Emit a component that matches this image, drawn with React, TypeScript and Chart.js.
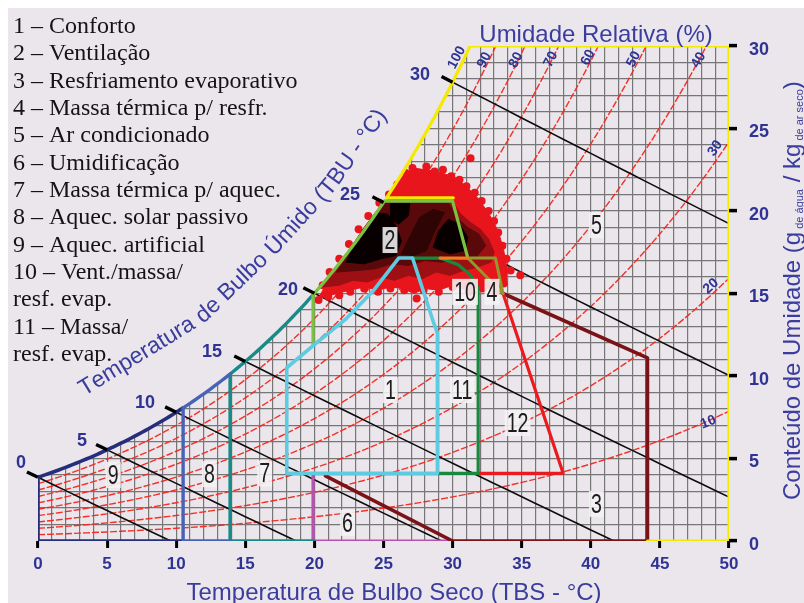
import React, { useEffect, useRef } from "react";
import { Chart, registerables } from "chart.js";

Chart.register(...registerables);

// ---------- constants ----------
const CANVAS_W = 796;
const CANVAS_H = 595;
const PRESSURE_KPA = 99;
const BG = "#ebe6ec";
const BLUE = "#2f3393";
const TITLE_BLUE = "#3a3d9e";
const GRID = "#767676";
const SANS = '"Liberation Sans", Arial, sans-serif';
const SERIF = '"Liberation Serif", "Times New Roman", serif';

// ---------- data ----------
const LEGEND_LINES = [
  "1 – Conforto",
  "2 – Ventilação",
  "3 – Resfriamento evaporativo",
  "4 – Massa térmica p/ resfr.",
  "5 – Ar condicionado",
  "6 – Umidificação",
  "7 – Massa térmica p/ aquec.",
  "8 – Aquec. solar passivo",
  "9 – Aquec. artificial",
  "10 – Vent./massa/",
  "resf. evap.",
  "11 – Massa/",
  "resf. evap.",
];

const RH_LEVELS = [10, 20, 30, 40, 50, 60, 70, 80, 90];
const RH_LABELS = ["100", "90", "80", "70", "60", "50", "40", "30", "20", "10"];
const RH_LABEL_X = [30.3, 32.3, 34.6, 37.1, 39.8, 43.1, 47.8, 49.0, 48.7, 48.5];
const RH_LABEL_Y = [29.3, 29.15, 29.15, 29.2, 29.3, 29.2, 29.15, 23.8, 15.45, 7.2];
const RH_LABEL_ANGLE = [-62, -63, -63, -63, -63, -62, -60, -55, -42, -22];

const WET_BULB_TEMPS = [0, 5, 10, 15, 20, 25, 30];
const WB_LABEL_X = [-1.23, 3.18, 7.74, 12.59, 18.09, 22.58, 27.64];
const WB_LABEL_Y = [4.73, 6.06, 8.36, 11.45, 15.21, 20.97, 28.24];

const TBU_TITLE = "Temperatura de Bulbo Úmido (TBU - °C)";
const TBU_PATH_X = [3.1, 11.8, 17.15, 21.13, 25.9];
const TBU_PATH_Y = [9.1, 13.55, 17.85, 21.5, 27.2];

const ZONE_LABELS = ["1", "2", "3", "4", "5", "6", "7", "8", "9", "10", "11", "12"];
const ZONE_LABEL_X = [25.5, 25.47, 40.4, 32.85, 40.4, 22.4, 16.4, 12.4, 5.45, 30.9, 30.7, 34.7];
const ZONE_LABEL_Y = [9.15, 18.24, 2.25, 15.1, 19.15, 1.1, 4.1, 4.05, 4.0, 15.1, 9.15, 7.15];

// zone limits on the dry-bulb axis
const ZONE9_X = [0, 10.5];
const ZONE8_X = [10.5, 13.9];
const ZONE7_X = [13.9, 19.9];
const ZONE2_SAT_X = [19.9, 25.07];
const ZONE5_SAT_X = [25.22, 31.27];

type P = [number, number];
const ZONE1_CONFORTO: P[] = [[18, 4.1], [18, 10.5], [20, 11.9], [22.2, 13.4], [24.2, 15.1], [26.1, 17.15], [27.1, 17.15], [28.6, 13.3], [28.9, 12.6], [28.9, 4.1], [18, 4.1]];
const ZONE2_VENT_TAIL: P[] = [[25.07, 20.6], [30.0, 20.6], [31.1, 17.15]];
const ZONE2_VENT_BASE: P[] = [[19.9, 11.9]];
const ZONE5_TOP_EDGE: P[] = [[25.22, 20.8], [30.05, 20.8]];
const ZONE5_FRAME: P[] = [[50, 30], [50, 0], [44.1, 0]];
const ZONE6_UMID: P[] = [[19.9, 4.1], [19.9, 0], [30, 0]];
const ZONE3_EVAP: P[] = [[20.8, 3.95], [30, 0], [44.1, 0], [44.1, 11.1], [33.65, 15.0]];
const ZONE10_11: P[] = [[27.1, 17.15], [29.1, 17.15], [30.4, 16.75], [31.3, 16.1], [31.85, 15.3], [31.85, 4.1], [28.9, 4.1]];
const ZONE_ORANGE: P[] = [[29.1, 17.15], [31.1, 17.15]];
const ZONE4_MASSA: P[] = [[31.1, 17.15], [33.1, 17.15], [33.65, 15.0], [31.1, 17.15]];
const ZONE12: P[] = [[31.85, 4.1], [38.0, 4.1], [33.65, 15.0]];

// climate data cloud (outline of the plotted hourly points)
const CLOUD_OUTER: P[] = [[20.3, 14.7], [20.8, 15.5], [21.6, 16.3], [22.4, 17.2], [23.2, 18.2], [24.0, 19.1], [24.8, 20.0], [25.4, 20.9], [25.9, 21.6], [26.5, 22.2], [27.2, 22.6], [28.0, 22.5], [28.8, 22.4], [29.6, 22.2], [30.4, 21.9], [31.1, 21.4], [31.8, 20.8], [32.5, 20.0], [33.0, 19.3], [33.4, 18.5], [33.7, 17.6], [33.9, 16.7], [33.9, 15.8], [33.5, 15.2], [32.8, 15.3], [31.9, 15.4], [31.0, 15.2], [30.0, 15.5], [29.0, 15.2], [28.0, 15.3], [27.2, 15.0], [26.4, 15.3], [25.5, 15.4], [24.6, 15.2], [23.6, 15.4], [22.6, 15.2], [21.6, 15.0], [20.8, 14.8], [20.3, 14.7]];
const CLOUD_DARK: P[] = [[20.6, 15.4], [21.2, 16.2], [22.0, 17.0], [22.8, 18.0], [23.6, 19.0], [24.4, 19.9], [25.0, 20.55], [30.0, 20.55], [30.6, 19.8], [31.3, 19.3], [32.0, 18.9], [32.6, 18.3], [33.0, 17.5], [32.8, 16.9], [31.8, 16.6], [30.8, 16.4], [29.8, 16.1], [28.8, 16.3], [27.8, 15.9], [26.8, 16.1], [25.8, 15.8], [24.8, 16.0], [23.8, 15.7], [22.8, 15.8], [21.8, 15.5], [20.6, 15.4]];
const CLOUD_MID: P[] = [[21.6, 16.3], [22.5, 17.4], [23.5, 18.7], [24.5, 19.9], [25.1, 20.5], [29.7, 20.5], [30.3, 19.6], [31.1, 19.0], [31.9, 18.6], [32.4, 17.9], [31.7, 17.2], [30.4, 17.1], [29.2, 16.9], [28.0, 17.0], [26.8, 16.7], [25.6, 16.8], [24.4, 16.5], [23.2, 16.4], [21.6, 16.3]];
const CLOUD_DARKER: P[] = [[26.3, 17.4], [27.0, 18.6], [27.6, 19.6], [28.6, 20.1], [29.4, 19.9], [28.6, 18.6], [28.1, 17.6], [27.2, 17.3], [26.3, 17.4]];
const CLOUD_BLACK_A: P[] = [[22.3, 16.9], [22.9, 18.0], [23.7, 19.0], [24.5, 19.9], [25.3, 19.8], [25.9, 19.1], [26.3, 18.2], [25.9, 17.3], [24.8, 17.1], [23.6, 16.8], [22.3, 16.9]];
const CLOUD_BLACK_B: P[] = [[28.6, 17.8], [29.0, 18.8], [29.7, 19.5], [30.5, 19.2], [31.1, 18.4], [30.9, 17.6], [29.8, 17.4], [28.6, 17.8]];
const CLOUD_BLACK_C: P[] = [[25.5, 20.45], [26.9, 20.45], [26.8, 19.7], [26.1, 19.2], [25.5, 19.5], [25.5, 20.45]];
const CLOUD_DOTS: P[] = [[26.0, 21.6], [26.6, 22.3], [27.1, 22.6], [27.6, 22.3], [28.1, 22.7], [28.7, 22.4], [29.3, 22.5], [29.9, 22.1], [30.5, 21.9], [31.0, 21.5], [31.3, 23.2], [31.6, 21.1], [32.1, 20.6], [32.6, 20.0], [33.0, 19.4], [33.3, 18.7], [33.6, 17.9], [33.9, 17.1], [34.2, 16.4], [34.9, 16.1], [33.7, 15.6], [33.1, 15.1], [32.2, 15.3], [31.2, 15.1], [30.0, 15.4], [29.0, 15.1], [27.9, 15.2], [27.4, 14.7], [26.5, 15.2], [25.5, 15.3], [24.6, 15.1], [23.6, 15.3], [22.6, 15.1], [21.8, 14.9], [21.0, 14.8], [20.3, 14.6], [20.6, 15.5], [21.1, 16.3], [21.8, 17.1], [22.5, 18.0], [23.2, 18.9], [23.9, 19.7], [24.7, 20.5], [25.4, 21.0]];

// ---------- psychrometric helpers ----------
const satVP = (t: number) => 0.61094 * Math.exp((17.625 * t) / (t + 243.04));
const humidity = (t: number, rh: number) => {
  const e = rh * satVP(t);
  return (622 * e) / (PRESSURE_KPA - e);
};
const satCurve = (t0: number, t1: number): P[] => {
  const pts: P[] = [];
  for (let t = t0; t < t1; t += 0.25) pts.push([t, humidity(t, 1)]);
  pts.push([t1, humidity(t1, 1)]);
  return pts;
};
const wetBulbW = (t: number, twb: number) => {
  const ws = humidity(twb, 1) / 1000;
  return (1000 * ((2501 - 2.326 * twb) * ws - 1.006 * (t - twb))) / (2501 + 1.86 * t - 4.186 * twb);
};

const xy = (pts: P[]) => pts.map(([x, y]) => ({ x, y }));
const lineDs = (pts: P[], color: string, width: number, order: number, extra: any = {}) => ({
  data: xy(pts),
  borderColor: color,
  backgroundColor: color,
  borderWidth: width,
  pointRadius: 0,
  fill: false,
  order,
  tension: 0,
  borderJoinStyle: "round",
  borderCapStyle: "round",
  ...extra,
});
const polyDs = (pts: P[], color: string, order: number) =>
  lineDs(pts, color, 1, order, { fill: "shape", backgroundColor: color, borderColor: color });

function buildDatasets() {
  const ds: any[] = [];
  // lavender cover above saturation curve (hides grid)
  const above = satCurve(0, ZONE5_SAT_X[1]);
  ds.push(lineDs(above, "transparent", 0, 100, { fill: "end", backgroundColor: BG, borderColor: "rgba(0,0,0,0)" }));

  // relative humidity curves
  RH_LEVELS.forEach((rh) => {
    const pts: P[] = [];
    for (let t = 0; t <= 50.001; t += 0.5) {
      const w = humidity(t, rh / 100);
      pts.push([t, w]);
      if (w > 31) break;
    }
    ds.push(lineDs(pts, "rgba(244,38,28,0.95)", 1.4, 90, { borderDash: [7, 2], borderCapStyle: "butt" }));
  });

  // wet-bulb lines and their ticks
  WET_BULB_TEMPS.forEach((twb) => {
    const ws = humidity(twb, 1) / 1000;
    const tEnd = Math.min(50, twb + ((2501 - 2.326 * twb) * ws) / 1.006);
    const pts: P[] = [];
    for (let t = twb; t < tEnd; t += 1) pts.push([t, wetBulbW(t, twb)]);
    pts.push([tEnd, Math.max(0, wetBulbW(tEnd, twb))]);
    ds.push(lineDs(pts, "#0d0d0d", 1.6, 85));
    ds.push(lineDs([[twb - 0.8, wetBulbW(twb - 0.8, twb)], [twb, wetBulbW(twb, twb)]], "#000000", 3.4, 5, { clip: false, borderCapStyle: "butt" }));
  });

  // climate cloud
  ds.push(polyDs(CLOUD_OUTER, "#e8151c", 60));
  ds.push(lineDs(CLOUD_DOTS, "#e8151c", 0, 59, { showLine: false, pointRadius: 4, pointBackgroundColor: "#e8151c", pointBorderWidth: 0 }));
  ds.push(polyDs(CLOUD_DARK, "#9c1014", 58));
  ds.push(polyDs(CLOUD_MID, "#5a090b", 57));
  ds.push(polyDs(CLOUD_DARKER, "#2e0405", 56));
  ds.push(polyDs(CLOUD_BLACK_A, "#080000", 55));
  ds.push(polyDs(CLOUD_BLACK_B, "#080000", 55));
  ds.push(polyDs(CLOUD_BLACK_C, "#080000", 55));

  // zone boundaries
  ds.push(lineDs([[ZONE9_X[1], 0], [0, 0], ...satCurve(ZONE9_X[0], ZONE9_X[1])], "#262e7c", 3.6, 20));
  ds.push(lineDs([[ZONE8_X[1], 0], [ZONE8_X[0], 0], ...satCurve(ZONE8_X[0], ZONE8_X[1])], "#4862b6", 3.4, 19));
  ds.push(lineDs([[20, 0], [ZONE7_X[0], 0], ...satCurve(ZONE7_X[0], ZONE7_X[1])], "#188b88", 3.4, 19));
  ds.push(lineDs(ZONE6_UMID, "#b752b2", 3.2, 19));
  ds.push(lineDs(ZONE3_EVAP, "#7a1317", 3.6, 18));
  ds.push(lineDs([...satCurve(ZONE5_SAT_X[0], ZONE5_SAT_X[1]), ...ZONE5_FRAME], "#f3ea00", 3.2, 17));
  ds.push(lineDs(ZONE5_TOP_EDGE, "#f3ea00", 3.2, 17));
  ds.push(lineDs([...ZONE2_VENT_BASE, ...satCurve(ZONE2_SAT_X[0], ZONE2_SAT_X[1]), ...ZONE2_VENT_TAIL], "#7cc242", 3.2, 16));
  ds.push(lineDs(ZONE12, "#ea1b1f", 3.2, 15));
  ds.push(lineDs(ZONE10_11, "#16893c", 3.2, 14));
  ds.push(lineDs(ZONE_ORANGE, "#f27a21", 3.2, 13));
  ds.push(lineDs(ZONE4_MASSA, "#8f992d", 3.0, 13));
  ds.push(lineDs(ZONE1_CONFORTO, "#5fcbe0", 3.6, 12));
  return ds;
}

function drawOnPath(ctx: CanvasRenderingContext2D, text: string, pts: P[]) {
  const segs: number[] = [];
  for (let i = 1; i < pts.length; i++) {
    segs.push(Math.hypot(pts[i][0] - pts[i - 1][0], pts[i][1] - pts[i - 1][1]));
  }
  const at = (s0: number): P => {
    let s = s0;
    if (s < 0) {
      const [a, b] = [pts[0], pts[1]];
      const f = s / segs[0];
      return [a[0] + (b[0] - a[0]) * f, a[1] + (b[1] - a[1]) * f];
    }
    for (let i = 0; i < segs.length; i++) {
      if (s <= segs[i] || i === segs.length - 1) {
        const f = s / segs[i];
        return [pts[i][0] + (pts[i + 1][0] - pts[i][0]) * f, pts[i][1] + (pts[i + 1][1] - pts[i][1]) * f];
      }
      s -= segs[i];
    }
    return pts[pts.length - 1];
  };
  let s = 0;
  for (const ch of text) {
    const w = ctx.measureText(ch).width;
    const m = s + w / 2;
    const [x, y] = at(m);
    const a = at(m - 14);
    const b = at(m + 14);
    const ang = Math.atan2(b[1] - a[1], b[0] - a[0]);
    ctx.save();
    ctx.translate(x, y);
    ctx.rotate(ang);
    ctx.fillText(ch, 0, 0);
    ctx.restore();
    s += w;
  }
}

const bgPlugin = {
  id: "bg",
  beforeDraw(chart: any) {
    const ctx = chart.ctx;
    ctx.save();
    ctx.fillStyle = BG;
    ctx.fillRect(0, 0, chart.width, chart.height);
    ctx.restore();
  },
};

const textPlugin = {
  id: "texts",
  afterDraw(chart: any) {
    const ctx: CanvasRenderingContext2D = chart.ctx;
    const xs = chart.scales.x;
    const ys = chart.scales.y;
    const px = (v: number) => xs.getPixelForValue(v);
    const py = (v: number) => ys.getPixelForValue(v);
    ctx.save();

    // zone labels
    ctx.font = `28px ${SANS}`;
    ZONE_LABELS.forEach((l, i) => {
      const cx = px(ZONE_LABEL_X[i]);
      const cy = py(ZONE_LABEL_Y[i]);
      const w = ctx.measureText(l).width * 0.7;
      ctx.fillStyle = "rgba(244,242,244,0.88)";
      ctx.fillRect(cx - w / 2 - 2, cy - 13, w + 4, 26);
      ctx.save();
      ctx.translate(cx, cy);
      ctx.scale(0.7, 1);
      ctx.fillStyle = "#1c1c1c";
      ctx.textAlign = "center";
      ctx.textBaseline = "middle";
      ctx.fillText(l, 0, 1);
      ctx.restore();
    });

    // legend text
    ctx.fillStyle = "#141414";
    ctx.font = `24px ${SERIF}`;
    ctx.textAlign = "left";
    ctx.textBaseline = "alphabetic";
    LEGEND_LINES.forEach((t, i) => ctx.fillText(t, 5, 25 + i * 27.33));

    // axis titles
    ctx.fillStyle = TITLE_BLUE;
    ctx.font = `24px ${SANS}`;
    ctx.textAlign = "center";
    ctx.fillText("Umidade Relativa (%)", 588, 34);
    ctx.fillText("Temperatura de Bulbo Seco (TBS - °C)", 386, 592);

    // right vertical title with subscripts
    ctx.save();
    ctx.translate(792, 492);
    ctx.rotate(-Math.PI / 2);
    ctx.textAlign = "left";
    let cx = 0;
    const seg = (t: string, size: number, dy: number) => {
      ctx.font = `${size}px ${SANS}`;
      ctx.fillText(t, cx, dy);
      cx += ctx.measureText(t).width;
    };
    seg("Conteúdo de Umidade (g", 24, 0);
    seg(" de água", 11, 3);
    seg(" / kg", 24, 0);
    seg(" de ar seco", 11, 3);
    seg(")", 24, 0);
    ctx.restore();

    // curved wet-bulb title
    ctx.font = `23px ${SANS}`;
    ctx.fillStyle = TITLE_BLUE;
    ctx.textAlign = "center";
    ctx.textBaseline = "middle";
    const path: P[] = TBU_PATH_X.map((x, i) => [px(x), py(TBU_PATH_Y[i])] as P);
    drawOnPath(ctx, TBU_TITLE, path);

    // wet-bulb temperature labels
    ctx.fillStyle = BLUE;
    ctx.font = `bold 18px ${SANS}`;
    WET_BULB_TEMPS.forEach((t, i) => ctx.fillText(String(t), px(WB_LABEL_X[i]), py(WB_LABEL_Y[i])));

    // RH labels
    ctx.font = `bold 14px ${SANS}`;
    RH_LABELS.forEach((l, i) => {
      ctx.save();
      ctx.translate(px(RH_LABEL_X[i]), py(RH_LABEL_Y[i]));
      ctx.rotate((RH_LABEL_ANGLE[i] * Math.PI) / 180);
      ctx.fillText(l, 0, 0);
      ctx.restore();
    });

    ctx.restore();
  },
};

export default function App() {
  const ref = useRef<HTMLCanvasElement | null>(null);
  useEffect(() => {
    if (!ref.current) return;
    const chart = new Chart(ref.current, {
      type: "line",
      data: { datasets: buildDatasets() },
      options: {
        animation: false,
        responsive: false,
        maintainAspectRatio: false,
        events: [],
        layout: { padding: { left: 30, top: 38, right: 0, bottom: 0 } },
        plugins: {
          legend: { display: false },
          tooltip: { enabled: false },
          filler: { propagate: false },
        },
        scales: {
          x: {
            type: "linear",
            position: "bottom",
            min: 0,
            max: 50,
            afterFit: (s: any) => {
              s.height = 62;
            },
            border: { display: false },
            grid: {
              color: (c: any) => (c.tick && (c.tick.value === 0 || c.tick.value === 50) ? "rgba(0,0,0,0)" : GRID),
              lineWidth: 1.2,
              tickLength: 7,
              tickWidth: 3,
              tickColor: (c: any) => (c.tick && c.tick.value % 5 === 0 ? "#000" : "rgba(0,0,0,0)"),
            },
            ticks: {
              stepSize: 1,
              autoSkip: false,
              maxRotation: 0,
              padding: 6,
              color: BLUE,
              font: { family: SANS, size: 17, weight: "bold" },
              callback: (v: any) => (Number(v) % 5 === 0 ? String(v) : ""),
            },
          },
          y: {
            type: "linear",
            position: "right",
            min: 0,
            max: 30,
            afterFit: (s: any) => {
              s.width = 75;
            },
            border: { display: false },
            grid: {
              color: (c: any) => (c.tick && (c.tick.value === 0 || c.tick.value === 30) ? "rgba(0,0,0,0)" : GRID),
              lineWidth: 1.2,
              tickLength: 8,
              tickWidth: 3.5,
              tickColor: (c: any) => (c.tick && c.tick.value % 5 === 0 ? "#000" : "rgba(0,0,0,0)"),
            },
            ticks: {
              stepSize: 1,
              autoSkip: false,
              padding: 12,
              labelOffset: 4,
              color: BLUE,
              font: { family: SANS, size: 18, weight: "bold" },
              callback: (v: any) => (Number(v) % 5 === 0 ? String(v) : ""),
            },
          },
        },
      } as any,
      plugins: [bgPlugin, textPlugin],
    });
    return () => chart.destroy();
  }, []);

  return (
    <div style={{ position: "fixed", left: 8, top: 8, width: CANVAS_W, height: CANVAS_H }}>
      <canvas ref={ref} width={CANVAS_W} height={CANVAS_H} style={{ display: "block", width: CANVAS_W, height: CANVAS_H }} />
    </div>
  );
}
